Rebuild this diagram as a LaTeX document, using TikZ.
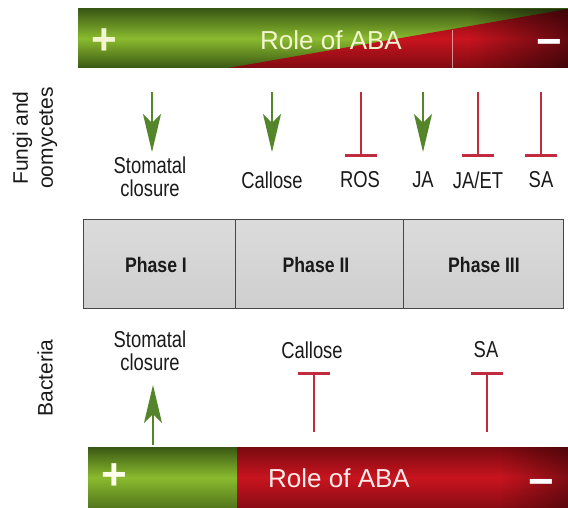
\documentclass[tikz,border=0pt]{standalone}
\usepackage{fontspec}
\setmainfont{Liberation Sans}
\newfontfamily\cond{Liberation Sans}[FakeStretch=0.8]
\newfontfamily\condb{Liberation Sans}[FakeStretch=0.84]
\usetikzlibrary{arrows.meta,fadings}
\definecolor{gdark}{HTML}{3A5814}
\definecolor{glight}{HTML}{8ABB2E}
\definecolor{rdark}{HTML}{7A0A10}
\definecolor{rlight}{HTML}{C8141F}
\definecolor{agreen}{HTML}{55852A}
\definecolor{ired}{HTML}{C22A3E}
\definecolor{labcol}{HTML}{F2F5D0}
\definecolor{txt}{HTML}{1A1A1A}
\tikzfading[name=fade right, left color=transparent!100, right color=transparent!0]
\begin{document}
\begin{tikzpicture}[x=1pt,y=-1pt,
  lbl/.style={inner sep=0pt, text=txt, align=center, font=\cond\fontsize{23}{23}\selectfont},
  side/.style={inner sep=0pt, text=txt, align=center, rotate=90, font=\fontsize{21}{25}\selectfont},
  phaselbl/.style={inner sep=0pt, text=txt, font=\condb\bfseries\fontsize{21}{22}\selectfont},
  ablab/.style={inner sep=0pt, font=\fontsize{26}{28}\selectfont},
  sign/.style={inner sep=0pt, font=\bfseries\fontsize{44}{44}\selectfont},
  act/.style={draw=agreen, line width=1.5pt, -{Stealth[length=38pt,width=18pt,inset=9pt,fill=agreen]}},
  inhib/.style={draw=ired, line width=1.5pt, -{Bar[width=32pt,line width=3pt]}},
  phasebox/.style={draw=gray!55!black, line width=1pt, top color=gray!28, middle color=white, bottom color=gray!38}
]
\useasboundingbox (0,0) rectangle (568,508);

% ---------- top bar ----------
\shade[top color=gdark, bottom color=gdark, middle color=glight] (78,9) rectangle (568,68);
\shade[top color=rdark, bottom color=rdark!90!rlight, middle color=rlight] (228,68) -- (568,9) -- (568,68) -- cycle;
\fill[black, path fading=fade right, fill opacity=0.5] (470,9) rectangle (568,68);
\draw[white, opacity=0.55, line width=1pt] (452,29.6) -- (452,68);
\node[sign, text=labcol] (tplus) at (104,42) {+};
\node[ablab, text=labcol] (ttitle) at (331,40) {Role of ABA};
\node[sign, text=white] (tminus) at (549,48) {−};

% ---------- side labels ----------
\node[side] (fungi) at (35,138) {Fungi and\\oomycetes};
\node[side] (bact) at (45,378) {Bacteria};

% ---------- fungi row ----------
\node[lbl] (fst) at (150,177) {Stomatal\\closure};
\node[lbl] (fcal) at (272,180) {Callose};
\node[lbl] (fros) at (360,180) {ROS};
\node[lbl] (fja) at (423,180) {JA};
\node[lbl] (fjaet) at (478,180) {JA/ET};
\node[lbl] (fsa) at (541,180) {SA};

\coordinate (a1s) at (152,92);  \coordinate (a1e) at (152,152);
\coordinate (a2s) at (272,92);  \coordinate (a2e) at (272,152);
\coordinate (a3s) at (361,92);  \coordinate (a3e) at (361,157);
\coordinate (a4s) at (423,92);  \coordinate (a4e) at (423,152);
\coordinate (a5s) at (478,92);  \coordinate (a5e) at (478,157);
\coordinate (a6s) at (541,92);  \coordinate (a6e) at (541,157);
\draw[act] (a1s) -- (a1e);
\draw[act] (a2s) -- (a2e);
\draw[inhib] (a3s) -- (a3e);
\draw[act] (a4s) -- (a4e);
\draw[inhib] (a5s) -- (a5e);
\draw[inhib] (a6s) -- (a6e);

% ---------- phases ----------
\path[phasebox] (83,219) rectangle (563,308);
\draw[gray!55!black, line width=1pt] (235,219) -- (235,308);
\draw[gray!55!black, line width=1pt] (403,219) -- (403,308);
\node[phaselbl] (p1) at (156,265) {Phase I};
\node[phaselbl] (p2) at (316,265) {Phase II};
\node[phaselbl] (p3) at (484,265) {Phase III};

% ---------- bacteria row ----------
\node[lbl] (bst) at (150,351) {Stomatal\\closure};
\node[lbl] (bcal) at (312,350) {Callose};
\node[lbl] (bsa) at (486,350) {SA};
\coordinate (b1s) at (153,445); \coordinate (b1e) at (153,385);
\coordinate (b2s) at (314,432); \coordinate (b2e) at (314,372);
\coordinate (b3s) at (487,432); \coordinate (b3e) at (487,372);
\draw[act] (b1s) -- (b1e);
\draw[inhib] (b2s) -- (b2e);
\draw[inhib] (b3s) -- (b3e);

% ---------- bottom bar ----------
\shade[top color=gdark, bottom color=gdark!70!glight, middle color=glight] (88,447) rectangle (237,508);
\shade[top color=rdark, bottom color=rdark!80!rlight, middle color=rlight] (237,447) rectangle (568,508);
\fill[black, path fading=fade right, fill opacity=0.35] (500,447) rectangle (568,508);
\node[sign, text=white!92!yellow] (bplus) at (114,477) {+};
\node[ablab, text=white!92!red] (btitle) at (339,478) {Role of ABA};
\node[sign, text=white] (bminus) at (541,488) {−};
\end{tikzpicture}
\end{document}
